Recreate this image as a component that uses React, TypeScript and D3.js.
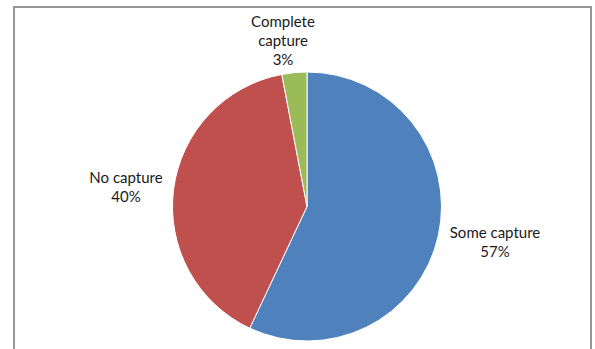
import React from "react";
import * as d3 from "d3";

const categories = ["Some capture", "No capture", "Complete capture"];
const values = [57, 40, 3];
const percentLabels = ["57%", "40%", "3%"];
const colors = ["#4F81BD", "#C0504D", "#9BBB59"];
// label lines per category
const labelLines = [["Some capture"], ["No capture"], ["Complete", "capture"]];
const labelAnchors: [number, number][] = [
  [495, 238],
  [126, 183],
  [283, 27],
];

export default function App() {
  const width = 595;
  const height = 349;
  const cx = 307;
  const cy = 206.5;
  const r = 134.5;
  const pie = d3
    .pie<number>()
    .sort(null)
    .value((d) => d)
    .startAngle(0)
    .endAngle(2 * Math.PI);
  const arcs = pie(values);
  const arcGen = d3.arc<d3.PieArcDatum<number>>().innerRadius(0).outerRadius(r);
  const lineH = 19;
  return (
    <svg
      width={width}
      height={height}
      style={{ position: "absolute", left: 0, top: 0, background: "#fff" }}
    >
      <rect x={0} y={0} width={width} height={height} fill="#fff" />
      <rect
        x={14}
        y={7}
        width={577}
        height={400}
        fill="#fff"
        stroke="#8a8a8a"
        strokeWidth={1.8}
      />
      <g transform={`translate(${cx},${cy})`}>
        {arcs.map((a, i) => (
          <path key={categories[i]} d={arcGen(a) || ""} fill={colors[i]} stroke="#fff" strokeWidth={1} />
        ))}
      </g>
      {categories.map((c, i) => {
        const lines = [...labelLines[i], percentLabels[i]];
        const [x, y] = labelAnchors[i];
        return (
          <text
            key={c}
            x={x}
            y={y}
            textAnchor="middle"
            fontFamily="Lato, 'Open Sans', sans-serif"
            fontSize={15}
            fill="#1a1a1a"
          >
            {lines.map((l, j) => (
              <tspan key={j} x={x} y={y + j * lineH}>
                {l}
              </tspan>
            ))}
          </text>
        );
      })}
    </svg>
  );
}
